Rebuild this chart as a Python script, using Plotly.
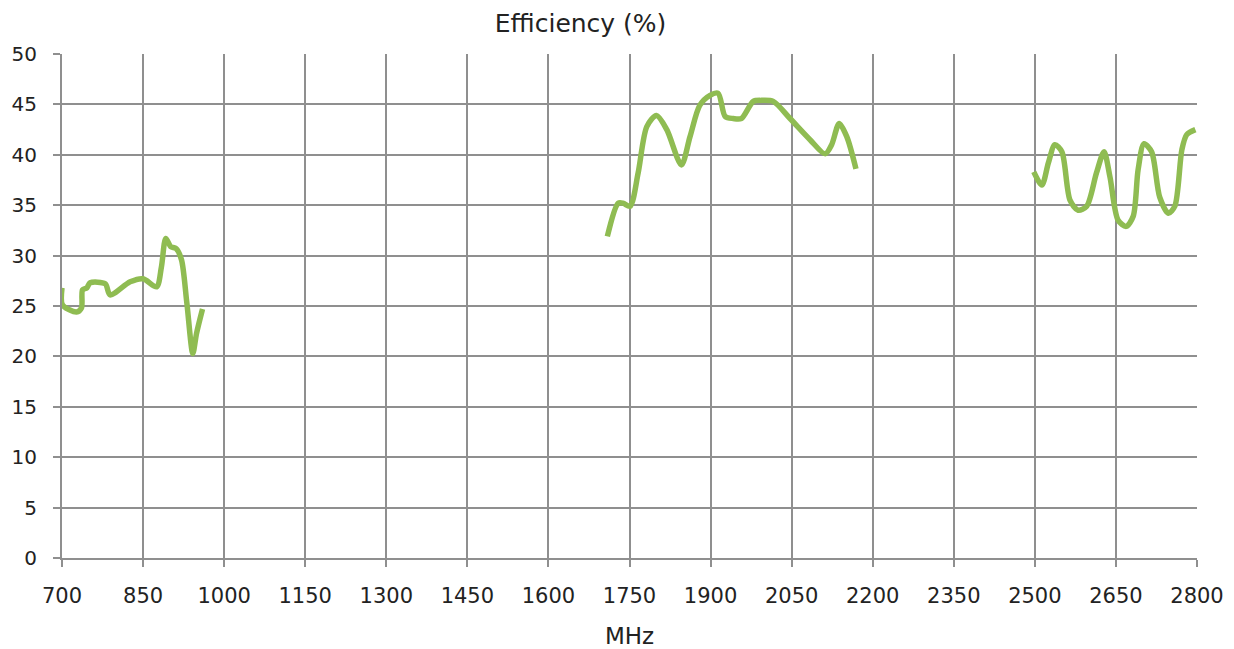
import plotly.graph_objects as go

band1_mhz = [700, 701, 727, 736, 738, 746, 752, 780, 789, 826, 850, 875, 884, 892, 901, 911, 921, 931, 942, 949, 960]
band1_eff = [26.8, 25.1, 24.4, 24.8, 26.6, 26.8, 27.3, 27.2, 26.1, 27.4, 27.7, 26.9, 28.9, 31.7, 30.9, 30.7, 29.6, 25.3, 20.3, 22.3, 24.7]

band2_mhz = [1709, 1729, 1738, 1751, 1766, 1782, 1800, 1819, 1846, 1862, 1880, 1899, 1914, 1927, 1942, 1957, 1979, 1994, 2016, 2047, 2084, 2112, 2124, 2138, 2152, 2169]
band2_eff = [31.9, 35.2, 35.2, 34.9, 38.2, 42.8, 43.9, 42.5, 39.0, 41.8, 44.9, 45.9, 46.1, 43.8, 43.6, 43.6, 45.3, 45.4, 45.3, 43.6, 41.5, 40.1, 41.0, 43.1, 41.8, 38.6]

band3_mhz = [2498, 2513, 2525, 2537, 2550, 2565, 2580, 2596, 2614, 2628, 2639, 2654, 2669, 2682, 2691, 2702, 2716, 2731, 2747, 2759, 2772, 2781, 2797]
band3_eff = [38.3, 37.0, 39.2, 41.0, 40.3, 35.5, 34.5, 34.9, 38.2, 40.3, 37.8, 33.5, 32.9, 33.9, 38.5, 41.1, 40.3, 35.8, 34.2, 34.9, 40.5, 42.0, 42.5]

x_ticks = list(range(700, 2801, 150))
y_ticks = list(range(0, 51, 5))

fig = go.Figure()
for xs, ys in [(band1_mhz, band1_eff), (band2_mhz, band2_eff), (band3_mhz, band3_eff)]:
    fig.add_trace(go.Scatter(x=xs, y=ys, mode="lines",
                             line=dict(color="#8FBC52", width=5.5, shape="spline", smoothing=0.8),
                             showlegend=False, hoverinfo="x+y"))

font_family = "DejaVu Sans, Verdana, sans-serif"
grid_col = "#8f8f8f"
fig.update_layout(
    width=1226, height=641,
    paper_bgcolor="white", plot_bgcolor="white",
    margin=dict(l=54, r=37, t=46, b=91),
    font=dict(family=font_family, size=20, color="#222"),
    title=dict(text="Efficiency (%)", x=0.467, xanchor="center", y=0.976, yanchor="middle",
               font=dict(family=font_family, size=25, color="#222")),
    xaxis=dict(range=[700, 2800], tickmode="array", tickvals=x_ticks,
               ticktext=[str(v) for v in x_ticks],
               automargin=False,
               showgrid=True, gridcolor=grid_col, gridwidth=1.6,
               showline=True, linecolor=grid_col, linewidth=2,
               ticks="outside", ticklen=7, tickcolor=grid_col, tickwidth=1.6,
               ticklabelstandoff=11,
               zeroline=False,
               title=dict(text="MHz", font=dict(family=font_family, size=23, color="#222"), standoff=24),
               tickfont=dict(family=font_family, size=21, color="#222")),
    yaxis=dict(range=[0, 50], tickmode="array", tickvals=y_ticks,
               automargin=False,
               showgrid=True, gridcolor=grid_col, gridwidth=1.6,
               showline=True, linecolor=grid_col, linewidth=2,
               ticks="outside", ticklen=7, tickcolor=grid_col, tickwidth=1.6,
               ticklabelstandoff=12,
               zeroline=False,
               tickfont=dict(family=font_family, size=20, color="#222")),
)

fig.write_html("out.html")
